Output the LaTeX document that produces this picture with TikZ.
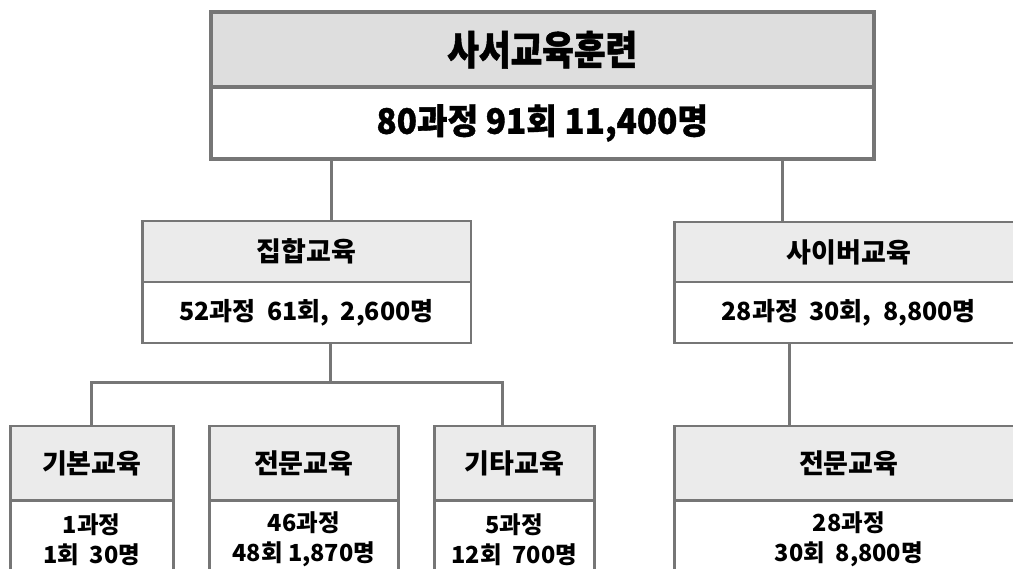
\documentclass[tikz,border=0pt]{standalone}
\usepackage{fontspec}
\newfontfamily\kr{Noto Sans CJK KR}
\newfontfamily\krhead{Noto Sans CJK KR}[FakeStretch=0.86,FakeBold=1.2]
\newfontfamily\krsub{Noto Sans CJK KR}[FakeStretch=0.95,FakeBold=1]
\definecolor{linegray}{HTML}{767676}
\definecolor{topfill}{HTML}{DEDEDE}
\definecolor{hdrfill}{HTML}{EBEBEB}
\tikzset{
  topbox/.style={draw=linegray, line width=4pt, inner sep=0pt, anchor=north west, text=black},
  midbox/.style={draw=linegray, line width=2.5pt, inner sep=0pt, anchor=north west, text=black,
    font=\kr\bfseries\fontsize{27}{30}\selectfont, align=center},
  midbody/.style={midbox, font=\kr\bfseries\fontsize{25}{30}\selectfont},
  lowbody/.style={midbox, font=\kr\bfseries\fontsize{23.5}{30}\selectfont},
  conn/.style={draw=linegray, line width=3pt},
}
\begin{document}
\begin{tikzpicture}[x=1pt,y=-1pt]
\useasboundingbox (0,0) rectangle (1013,569);
\clip (0,0) rectangle (1013,569);
% top box
\node[topbox, fill=topfill, minimum width=662.5pt, minimum height=74.5pt,
  font=\krhead\bfseries\fontsize{40}{44}\selectfont] (toph) at (209,10.5) {사서교육훈련};
\node[topbox, fill=white, minimum width=662.5pt, minimum height=72pt,
  font=\krsub\bfseries\fontsize{35}{38}\selectfont] (topb) at (209,85) {80과정 91회 11,400명};
% middle row
\node[midbox, fill=hdrfill, minimum width=328.5pt, minimum height=61pt] (jh) at (141,220) {집합교육};
\node[midbody, fill=white, minimum width=328.5pt, minimum height=61pt] (jb) at (141,281) {52과정\ \ 61회,\ \ 2,600명};
\node[midbox, fill=hdrfill, minimum width=349pt, minimum height=60pt] (sh) at (673,221) {사이버교육};
\node[midbody, fill=white, minimum width=349pt, minimum height=61pt] (sb) at (673,281) {28과정\ \ 30회,\ \ 8,800명};
% bottom row
\node[midbox, fill=hdrfill, minimum width=163pt, minimum height=74pt] (ah) at (9,425) {기본교육};
\node[lowbody, fill=white, minimum width=163pt, minimum height=78pt] (ab) at (9,499) {1과정\\1회\ \ 30명};
\node[midbox, fill=hdrfill, minimum width=189pt, minimum height=74pt] (bh) at (208,425) {전문교육};
\node[lowbody, fill=white, minimum width=189pt, minimum height=78pt] (bb) at (208,499) {46과정\\48회 1,870명};
\node[midbox, fill=hdrfill, minimum width=160pt, minimum height=74pt] (ch) at (433,425) {기타교육};
\node[lowbody, fill=white, minimum width=160pt, minimum height=78pt] (cb) at (433,499) {5과정\\12회\ \ 700명};
\node[midbox, fill=hdrfill, minimum width=349pt, minimum height=74pt] (dh) at (673,425) {전문교육};
\node[lowbody, fill=white, minimum width=349pt, minimum height=78pt] (db) at (673,499) {28과정\\30회\ \ 8,800명};
% connectors
\coordinate (busm) at (330,383);
\coordinate (busl) at (91,383);
\coordinate (busr) at (502,383);
\draw[conn] (topb.south -| 331,0) -- (jh.north -| 331,0);
\draw[conn] (topb.south -| 782,0) -- (sh.north -| 782,0);
\draw[conn] (jb.south -| busm) -- (busm);
\draw[conn] (busl |- ah.north) -- (busl) -- (busr) -- (busr |- ch.north);
\draw[conn] (sb.south -| 789,0) -- (dh.north -| 789,0);
\end{tikzpicture}
\end{document}
